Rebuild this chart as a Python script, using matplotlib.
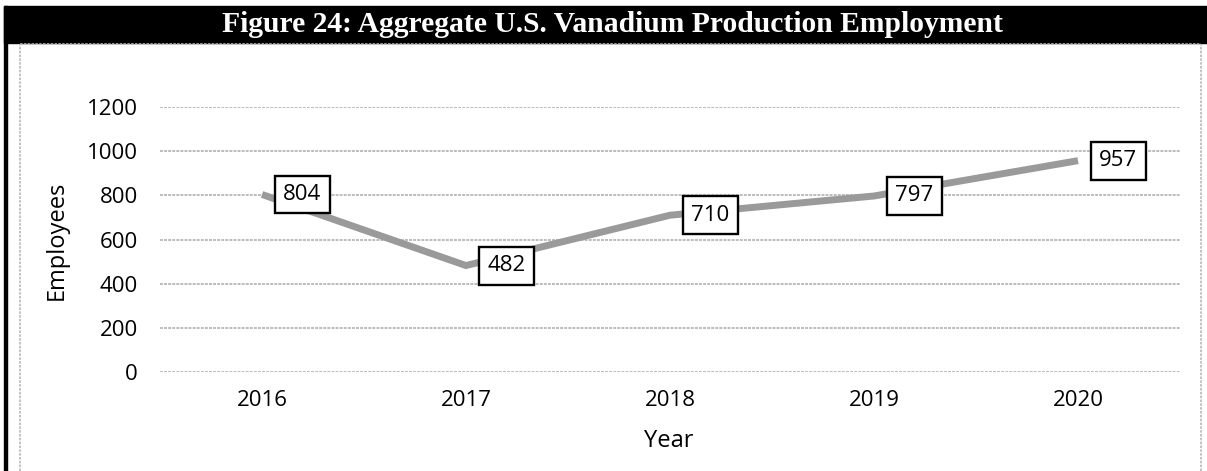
import matplotlib.pyplot as plt
from matplotlib.patches import Rectangle
from matplotlib.lines import Line2D

years = ["2016", "2017", "2018", "2019", "2020"]
employees = [804, 482, 710, 797, 957]
yticks = [0, 200, 400, 600, 800, 1000, 1200]

W, H = 1207, 471
fig = plt.figure(figsize=(W / 100, H / 100), dpi=100)
plt.rcParams['font.family'] = ['Open Sans', 'DejaVu Sans']

# black title bar and left edge
fig.add_artist(Rectangle((4 / W, (H - 43) / H), 1 - 4 / W, 37 / H,
                         transform=fig.transFigure, color='black', zorder=0))
fig.add_artist(Rectangle((4 / W, 0), 3 / W, (H - 6) / H,
                         transform=fig.transFigure, color='black', zorder=0))
# light dotted inner frame
frame_kw = dict(transform=fig.transFigure, color='#b8b8b8', lw=1.2,
                linestyle=(0, (1.5, 0.8)))
fig.add_artist(Line2D([20 / W, 1201 / W], [(H - 44) / H, (H - 44) / H], **frame_kw))
fig.add_artist(Line2D([20 / W, 20 / W], [0, (H - 44) / H], **frame_kw))
fig.add_artist(Line2D([1201 / W, 1201 / W], [0, (H - 44) / H], **frame_kw))

fig.text(612 / W, (H - 25) / H, "Figure 24: Aggregate U.S. Vanadium Production Employment",
         color='white', fontsize=21.3, fontweight='bold', family='Liberation Serif',
         ha='center', va='center')

ax = fig.add_axes([160 / W, 99 / H, 1020 / W, 265 / H])
x = list(range(len(years)))
ax.plot(x, employees, color='#9a9a9a', lw=5, solid_capstyle='butt', zorder=3)

for xi, v in zip(x, employees):
    ax.annotate(str(v), (xi, v), xytext=(29, 0), textcoords='offset points',
                ha='center', va='center', fontsize=16, zorder=5,
                bbox=dict(boxstyle='square,pad=0.38', fc='white', ec='black', lw=1.7))

ax.set_xlim(-0.5, len(years) - 0.5)
ax.set_ylim(0, 1200)
ax.set_yticks(yticks)
ax.set_xticks(x)
ax.set_xticklabels(years)
ax.grid(axis='y', color='#bcbcbc', lw=1.4, linestyle=(0, (1.5, 0.6)))
ax.set_axisbelow(True)
for s in ax.spines.values():
    s.set_visible(False)
ax.tick_params(axis='both', length=0, labelsize=16, colors='black')
ax.tick_params(axis='y', pad=16)
ax.tick_params(axis='x', pad=13)

fig.text(57 / W, (H - 240) / H, "Employees", rotation=90, fontsize=17,
         ha='center', va='center')
fig.text(669 / W, (H - 441) / H, "Year", fontsize=17, ha='center', va='center')

fig.savefig("out.png", dpi=100)
